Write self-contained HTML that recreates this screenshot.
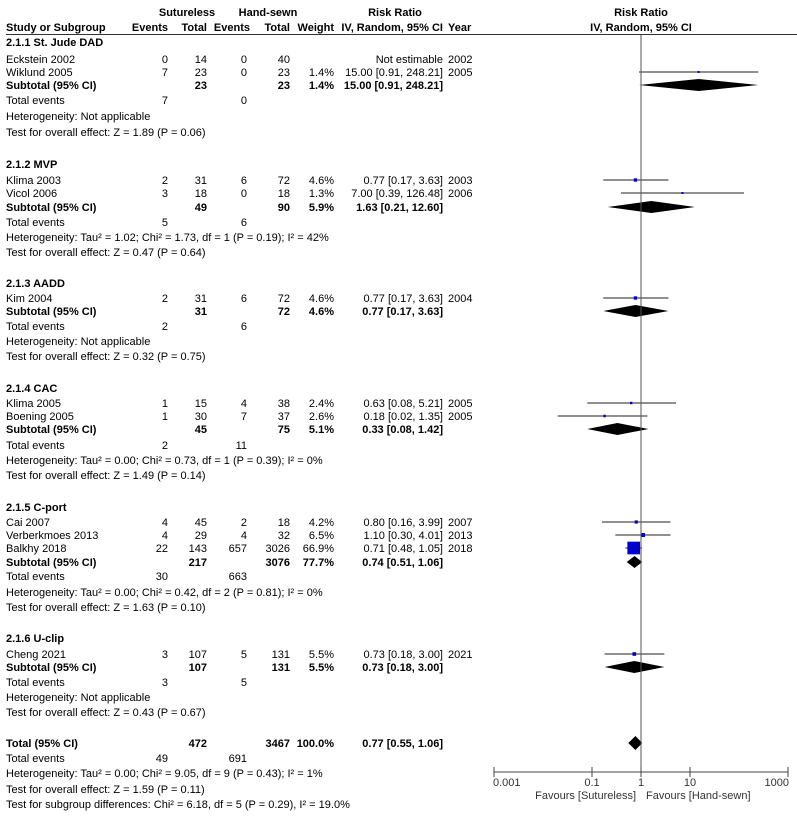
<!DOCTYPE html>
<html><head><meta charset="utf-8"><style>
body{margin:0;background:#fff}
svg{display:block;font-family:"Liberation Sans",Arial,sans-serif;font-size:11px}
.b{font-weight:bold}
</style></head><body>
<svg id="plot" width="797" height="816" viewBox="0 0 797 816">
<g>
<text x="187" y="16" text-anchor="middle" class="b">Sutureless</text>
<text x="268" y="16" text-anchor="middle" class="b">Hand-sewn</text>
<text x="395" y="16" text-anchor="middle" class="b">Risk Ratio</text>
<text x="641" y="16" text-anchor="middle" class="b">Risk Ratio</text>
<text x="6" y="31" class="b">Study or Subgroup</text>
<text x="168" y="31" text-anchor="end" class="b">Events</text>
<text x="207" y="31" text-anchor="end" class="b">Total</text>
<text x="250" y="31" text-anchor="end" class="b">Events</text>
<text x="290" y="31" text-anchor="end" class="b">Total</text>
<text x="334" y="31" text-anchor="end" class="b">Weight</text>
<text x="443" y="31" text-anchor="end" class="b">IV, Random, 95% CI</text>
<text x="448" y="31" class="b">Year</text>
<text x="641" y="31" text-anchor="middle" class="b">IV, Random, 95% CI</text>
<line x1="6" y1="34.5" x2="797" y2="34.5" stroke="#333" stroke-width="1"/>
</g>
<g id="rows"></g>
<g id="marks"></g>
<g id="axis"></g>
</svg>
<script>
const rowY = [42,59,72,85,100,116,132, 164,180,193,207,222,237,252, 283,298,311,326,341,356, 388,403,416,429,445,460,475, 507,522,535,548,562,576,592,607, 638,654,667,682,697,712, 743,758,773,789,804];
const rowType = ['g','s','s','t','e','h','h', 'g','s','s','t','e','h','h', 'g','s','t','e','h','h', 'g','s','s','t','e','h','h', 'g','s','s','s','t','e','h','h', 'g','s','t','e','h','h', 'T','e','h','h','h'];
const rowLabel = ['2.1.1 St. Jude DAD','Eckstein 2002','Wiklund 2005','Subtotal (95% CI)','Total events','Heterogeneity: Not applicable','Test for overall effect: Z = 1.89 (P = 0.06)',
'2.1.2 MVP','Klima 2003','Vicol 2006','Subtotal (95% CI)','Total events','Heterogeneity: Tau² = 1.02; Chi² = 1.73, df = 1 (P = 0.19); I² = 42%','Test for overall effect: Z = 0.47 (P = 0.64)',
'2.1.3 AADD','Kim 2004','Subtotal (95% CI)','Total events','Heterogeneity: Not applicable','Test for overall effect: Z = 0.32 (P = 0.75)',
'2.1.4 CAC','Klima 2005','Boening 2005','Subtotal (95% CI)','Total events','Heterogeneity: Tau² = 0.00; Chi² = 0.73, df = 1 (P = 0.39); I² = 0%','Test for overall effect: Z = 1.49 (P = 0.14)',
'2.1.5 C-port','Cai 2007','Verberkmoes 2013','Balkhy 2018','Subtotal (95% CI)','Total events','Heterogeneity: Tau² = 0.00; Chi² = 0.42, df = 2 (P = 0.81); I² = 0%','Test for overall effect: Z = 1.63 (P = 0.10)',
'2.1.6 U-clip','Cheng 2021','Subtotal (95% CI)','Total events','Heterogeneity: Not applicable','Test for overall effect: Z = 0.43 (P = 0.67)',
'Total (95% CI)','Total events','Heterogeneity: Tau² = 0.00; Chi² = 9.05, df = 9 (P = 0.43); I² = 1%','Test for overall effect: Z = 1.59 (P = 0.11)','Test for subgroup differences: Chi² = 6.18, df = 5 (P = 0.29), I² = 19.0%'];
const events1 = ['','0','7','','7','','', '','2','3','','5','','', '','2','','2','','', '','1','1','','2','','', '','4','4','22','','30','','', '','3','','3','','', '','49','',''];
const totals1 = ['','14','23','23','','','', '','31','18','49','','','', '','31','31','','','', '','15','30','45','','','', '','45','29','143','217','','','', '','107','107','','','', '472','','',''];
const events2 = ['','0','0','','0','','', '','6','0','','6','','', '','6','','6','','', '','4','7','','11','','', '','2','4','657','','663','','', '','5','','5','','', '','691','',''];
const totals2 = ['','40','23','23','','','', '','72','18','90','','','', '','72','72','','','', '','38','37','75','','','', '','18','32','3026','3076','','','', '','131','131','','','', '3467','','',''];
const weights = [null,null,1.4,1.4,null,null,null, null,4.6,1.3,5.9,null,null,null, null,4.6,4.6,null,null,null, null,2.4,2.6,5.1,null,null,null, null,4.2,6.5,66.9,77.7,null,null,null, null,5.5,5.5,null,null,null, 100.0,null,null,null,null];
const rr = [null,null,15.00,15.00,null,null,null, null,0.77,7.00,1.63,null,null,null, null,0.77,0.77,null,null,null, null,0.63,0.18,0.33,null,null,null, null,0.80,1.10,0.71,0.74,null,null,null, null,0.73,0.73,null,null,null, 0.77,null,null,null,null];
const lo = [null,null,0.91,0.91,null,null,null, null,0.17,0.39,0.21,null,null,null, null,0.17,0.17,null,null,null, null,0.08,0.02,0.08,null,null,null, null,0.16,0.30,0.48,0.51,null,null,null, null,0.18,0.18,null,null,null, 0.55,null,null,null,null];
const hi = [null,null,248.21,248.21,null,null,null, null,3.63,126.48,12.60,null,null,null, null,3.63,3.63,null,null,null, null,5.21,1.35,1.42,null,null,null, null,3.99,4.01,1.05,1.06,null,null,null, null,3.00,3.00,null,null,null, 1.06,null,null,null,null];
const years = ['','2002','2005','','','','', '','2003','2006','','','','', '','2004','','','','', '','2005','2005','','','','', '','2007','2013','2018','','','','', '','2021','','','','', '','','',''];
const axisTicks = [0.001,0.1,1,10,1000];
const axisLabels = ['0.001','0.1','1','10','1000'];

const NS='http://www.w3.org/2000/svg';
const X0=641, DEC=49;
function xs(v){return X0+DEC*Math.log10(v);}
function el(tag,attrs,parent,txt){const e=document.createElementNS(NS,tag);for(const k in attrs)e.setAttribute(k,attrs[k]);if(txt!==undefined)e.textContent=txt;parent.appendChild(e);return e;}
const rows=document.getElementById('rows'), marks=document.getElementById('marks'), axis=document.getElementById('axis');
function f2(v){return v.toFixed(2);}
for(let i=0;i<rowY.length;i++){
  const y=rowY[i]+4, t=rowType[i];
  const bold=(t==='g'||t==='t'||t==='T')?'b':'';
  const g=el('g',{},rows);
  
  
  el('text',{x:6,y:y,'class':bold},g,rowLabel[i]);
  const tb=(t==='t'||t==='T')?'b':'';
  if(events1[i])el('text',{x:168,y:y,'text-anchor':'end'},g,events1[i]);
  if(totals1[i])el('text',{x:207,y:y,'text-anchor':'end','class':tb},g,totals1[i]);
  if(events2[i])el('text',{x:247,y:y,'text-anchor':'end'},g,events2[i]);
  if(totals2[i])el('text',{x:290,y:y,'text-anchor':'end','class':tb},g,totals2[i]);
  if(weights[i]!==null)el('text',{x:334,y:y,'text-anchor':'end','class':tb},g,weights[i].toFixed(1)+'%');
  if(rr[i]!==null)el('text',{x:443,y:y,'text-anchor':'end','class':tb},g,f2(rr[i])+' ['+f2(lo[i])+', '+f2(hi[i])+']');
  else if(t==='s')el('text',{x:443,y:y,'text-anchor':'end'},g,'Not estimable');
  if(years[i])el('text',{x:448,y:y},g,years[i]);
  if(rr[i]===null)continue;
  const cy=rowY[i];
  if(t==='s'){
    const ln=el('line',{x1:Math.max(494,xs(lo[i])),x2:Math.min(788,xs(hi[i])),y1:cy,y2:cy,stroke:'#222','stroke-width':1},marks);
    
    
    const s=Math.max(2,Math.sqrt(weights[i])*1.55);
    const sq=el('rect',{x:xs(rr[i])-s/2,y:cy-s/2,width:s,height:s,fill:'#0000cc'},marks);
    
    
  } else {
    const h=t==='T'?7:6, cx=xs(rr[i]);
    const d=el('polygon',{points:[xs(lo[i]),cy,cx,cy-h,Math.min(788,xs(hi[i])),cy,cx,cy+h].join(' '),fill:'#000'},marks);
    
    
  }
}
const ref=el('line',{x1:X0,x2:X0,y1:35,y2:772,stroke:'#555','stroke-width':1},marks);


const al=el('line',{x1:xs(0.001),x2:xs(1000),y1:772,y2:772,stroke:'#444','stroke-width':1},axis);


axisTicks.forEach((v,k)=>{
  const x=xs(v);
  const tk=el('line',{x1:x,x2:x,y1:767,y2:777,stroke:'#444'},axis);
  
  
  const anchor=k===0?'start':(k===axisTicks.length-1?'end':'middle');
  const tl=el('text',{x:k===0?x-1:(k===axisTicks.length-1?x+1:x),y:786,'text-anchor':anchor,fill:'#333'},axis,axisLabels[k]);
  
  
});
const fl=el('text',{x:636,y:799,'text-anchor':'end',fill:'#333'},axis,'Favours [Sutureless]');


const fr=el('text',{x:646,y:799,fill:'#333'},axis,'Favours [Hand-sewn]');


</script>
</body></html>
